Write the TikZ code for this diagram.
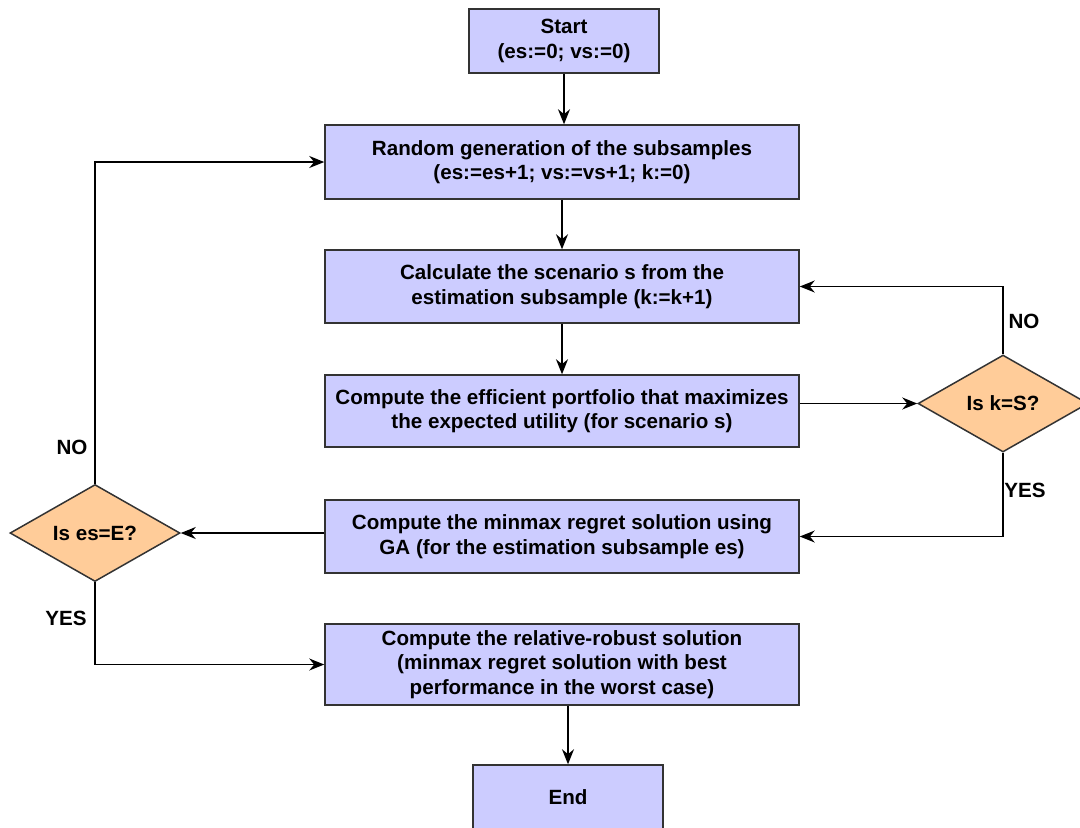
\documentclass[tikz,border=0pt]{standalone}
\usepackage{fontspec}
\setmainfont{Liberation Sans}
\usepackage{xcolor}
\usetikzlibrary{arrows.meta,shapes.geometric}

\definecolor{boxfill}{HTML}{CCCCFF}
\definecolor{askfill}{HTML}{FFCC99}
\definecolor{edge}{HTML}{333333}

\begin{document}
\begin{tikzpicture}[x=0.5pt,y=-0.5pt,
    font=\bfseries\fontsize{10.3}{12.2}\selectfont,
    box/.style={draw=edge,line width=0.75pt,fill=boxfill,align=center,
      minimum width=237pt,inner sep=2pt},
    ask/.style={draw=edge,line width=0.75pt,fill=askfill,diamond,aspect=2,
      minimum width=85pt,minimum height=48.5pt,inner sep=0pt},
    arr/.style={-{Stealth[length=7.5pt,width=6pt]},line width=0.65pt},
    lbl/.style={inner sep=1pt}]
  \useasboundingbox (0,0) rectangle (1080,827);
  \clip (0,0) rectangle (1080,827);

  \node[box,minimum width=95pt,minimum height=32pt] (start) at (564,41)
    {Start\\(es:=0; vs:=0)};
  \node[box,minimum height=37pt] (gen) at (562,162)
    {Random generation of the subsamples\\(es:=es+1; vs:=vs+1; k:=0)};
  \node[box,minimum height=36.5pt] (calc) at (562,286.5)
    {Calculate the scenario s from the\\estimation subsample (k:=k+1)};
  \node[box,minimum height=36pt] (eff) at (562,411)
    {Compute the efficient portfolio that maximizes\\the expected utility (for scenario s)};
  \node[box,minimum height=36.5pt] (mmr) at (562,536.5)
    {Compute the minmax regret solution using\\GA (for the estimation subsample es)};
  \node[box,minimum height=40.5pt] (rob) at (562,664.5)
    {Compute the relative-robust solution\\(minmax regret solution with best\\performance in the worst case)};
  \node[box,minimum width=95pt,minimum height=32pt] (end) at (568,797) {End};

  \node[ask] (chkk) at (1003,403.5) {Is k=S?};
  \node[ask] (chke) at (95,533) {Is es=E?};

  % flow
  \draw[arr] (start.south) -- (start.south |- gen.north);
  \draw[arr] (gen) -- (calc);
  \draw[arr] (calc) -- (eff);
  \draw[arr] (eff.east |- chkk.west) -- (chkk.west);
  \draw[arr] (chkk.north) |- (calc.east);
  \draw[arr] (chkk.south) |- (mmr.east);
  \draw[arr] (mmr.west |- chke.east) -- (chke.east);
  \draw[arr] (chke.north) |- (gen.west);
  \draw[arr] (chke.south) |- (rob.west);
  \draw[arr] (rob.south -| end.north) -- (end.north);

  \node[lbl] (nok) at (1024,321) {NO};
  \node[lbl] (yesk) at (1025,490) {YES};
  \node[lbl] (noe) at (72,447) {NO};
  \node[lbl] (yese) at (66,618) {YES};
\end{tikzpicture}
\end{document}
